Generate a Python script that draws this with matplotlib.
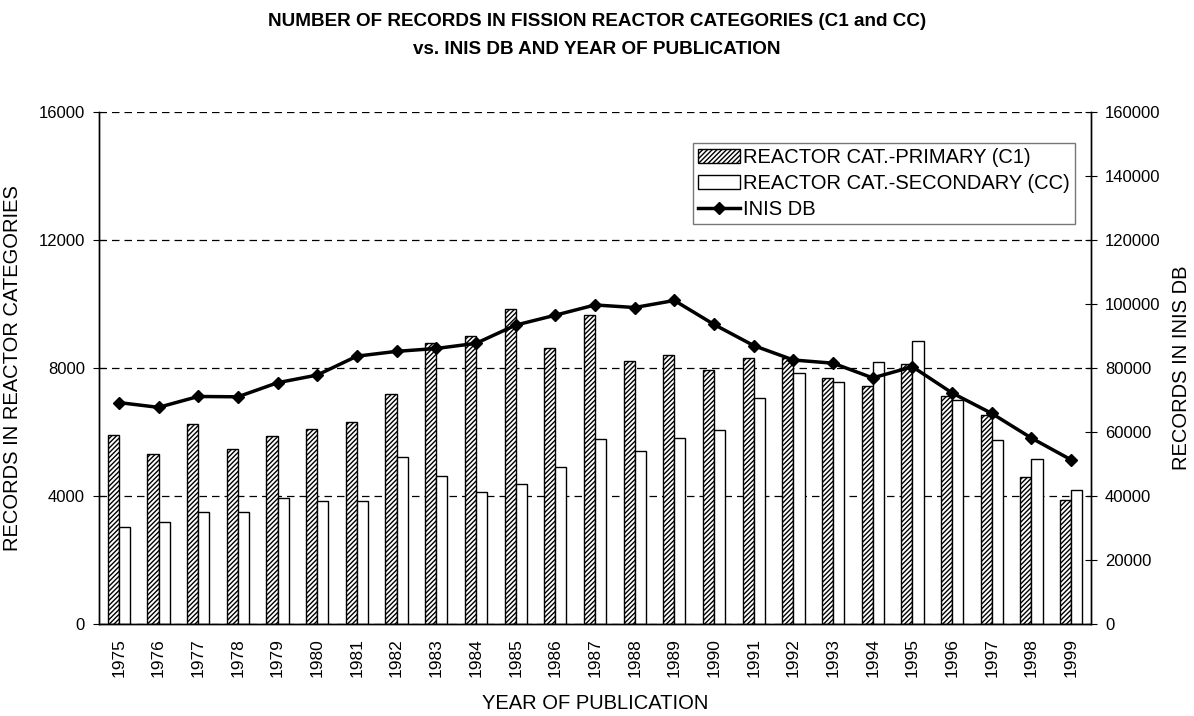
import numpy as np
import matplotlib
matplotlib.use("Agg")
import matplotlib.pyplot as plt

plt.rcParams['font.family'] = ['Liberation Sans', 'DejaVu Sans']
plt.rcParams['hatch.linewidth'] = 1.0

""" data read off the picture """
years = [str(y) for y in range(1975, 2000)]
c1 = [5900, 5310, 6240, 5480, 5890, 6090, 6300, 7190, 8790, 9010, 9850, 8630, 9650,
      8210, 8420, 7930, 8310, 8300, 7690, 7430, 8130, 7140, 6530, 4590, 3880]
cc = [3020, 3180, 3490, 3510, 3930, 3850, 3850, 5220, 4630, 4110, 4380, 4920, 5780,
      5400, 5810, 6060, 7070, 7830, 7570, 8200, 8840, 7000, 5760, 5160, 4190]
inis = [69200, 67700, 71100, 71000, 75400, 77800, 83700, 85200, 86100, 87700, 93400, 96500, 99700,
        98900, 101100, 93600, 87000, 82500, 81500, 76900, 80400, 72200, 65800, 58100, 51300]

fig = plt.figure(figsize=(11.94, 7.16), dpi=100)
ax = fig.add_axes([99 / 1194, 1 - 624 / 716, (1091 - 99) / 1194, (624 - 112) / 716])
ax2 = ax.twinx()

x = np.arange(len(years))
w = 0.28
b1 = ax.bar(x - w / 2, c1, w, facecolor='white', edgecolor='black', hatch='///////',
            linewidth=1, label='REACTOR CAT.-PRIMARY (C1)')
b2 = ax.bar(x + w / 2, cc, w, facecolor='white', edgecolor='black',
            linewidth=1, label='REACTOR CAT.-SECONDARY (CC)')
ln, = ax2.plot(x, inis, color='black', lw=2.5, marker='D', markersize=6, label='INIS DB')

ax.set_xlim(-0.5, len(years) - 0.5)
ax.set_ylim(0, 16000)
ax2.set_ylim(0, 160000)
ax.set_yticks(np.arange(0, 16001, 4000))
ax2.set_yticks(np.arange(0, 160001, 20000))
ax.set_xticks(x)
ax.set_xticklabels(years, rotation=90)

ax.yaxis.grid(True, color='black', linestyle=(0, (6, 4)), linewidth=0.9)
ax.set_axisbelow(True)
for a in (ax, ax2):
    a.spines['top'].set_visible(False)
    for s in a.spines.values():
        s.set_linewidth(1.0)
ax.tick_params(axis='y', direction='inout', length=8, labelsize=12, pad=6)
ax2.tick_params(axis='y', direction='inout', length=8, labelsize=12, pad=6)
ax.tick_params(axis='x', length=0, labelsize=12.5, pad=10)

ax.set_xlabel('YEAR OF PUBLICATION', fontsize=14.5, labelpad=12)
ax.set_ylabel('RECORDS IN REACTOR CATEGORIES', fontsize=14.5, labelpad=12)
ax2.set_ylabel('RECORDS IN INIS DB', fontsize=14.5, labelpad=8)

leg = ax2.legend([b1, b2, ln], [b1.get_label(), b2.get_label(), ln.get_label()],
                 loc='upper right', bbox_to_anchor=(0.984, 0.94), fontsize=14.5,
                 frameon=True, fancybox=False, borderaxespad=0, handlelength=2.1,
                 handletextpad=0.15, labelspacing=0.35, borderpad=0.25)
leg.get_frame().set_edgecolor('#555555')
leg.get_frame().set_linewidth(1.0)

fig.text(0.5, 0.982, 'NUMBER OF RECORDS IN FISSION REACTOR CATEGORIES (C1 and CC)\nvs. INIS DB AND YEAR OF PUBLICATION',
         ha='center', va='top', fontsize=13.6, fontweight='bold', linespacing=1.85)

fig.savefig('out.png', dpi=100)
